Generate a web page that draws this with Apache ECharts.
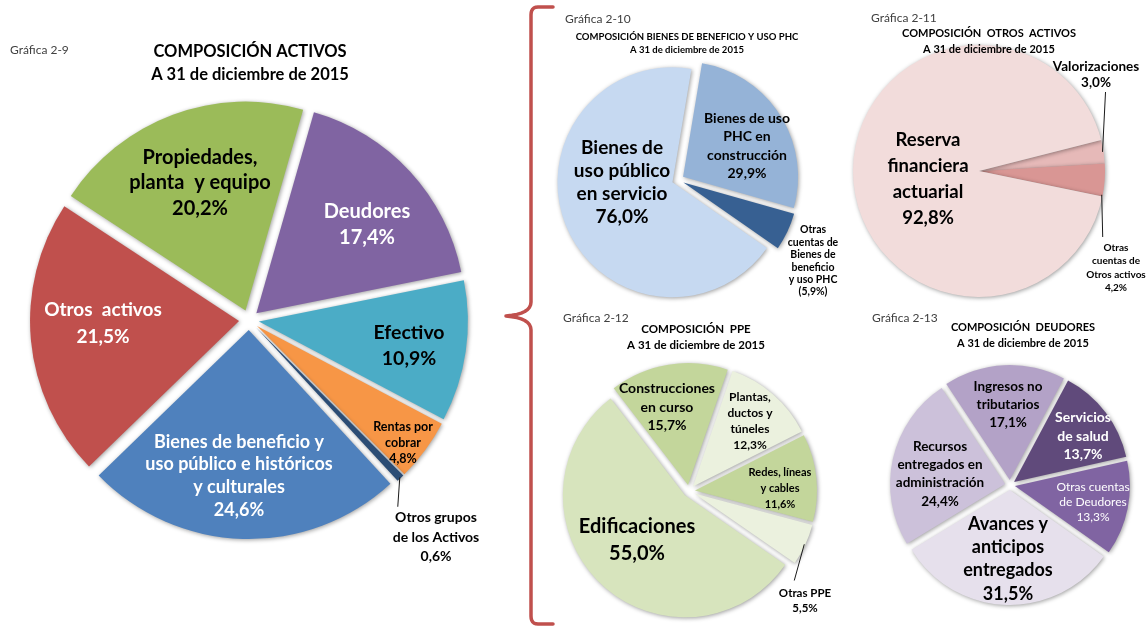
<!DOCTYPE html>
<html>
<head>
<meta charset="utf-8">
<script src="https://cdn.jsdelivr.net/npm/echarts@6/dist/echarts.min.js"></script>
<style>
  html, body { margin: 0; padding: 0; background: #ffffff; }
  #chart { width: 1148px; height: 629px; }
</style>
</head>
<body>
<div id="chart"></div>
<script>
// ---------------- DATA ----------------
// Gráfica 2-9  (clockwise order as drawn)
const activosNames  = ['Deudores', 'Efectivo', 'Rentas por cobrar', 'Otros grupos de los Activos',
                       'Bienes de beneficio y uso público e históricos y culturales', 'Otros activos',
                       'Propiedades, planta y equipo'];
const activosValues = [17.4, 10.9, 4.8, 0.6, 24.6, 21.5, 20.2];
const activosText   = ['Deudores', 'Efectivo', 'Rentas por\ncobrar', 'Otros grupos\nde los Activos',
                       'Bienes de beneficio y\nuso público e históricos\ny culturales', 'Otros  activos',
                       'Propiedades,\nplanta  y equipo'];

// Gráfica 2-10
const phcNames  = ['Bienes de uso PHC en construcción', 'Otras cuentas de Bienes de beneficio y uso PHC',
                   'Bienes de uso público en servicio'];
const phcValues = [29.9, 5.9, 76.0];
const phcText   = ['Bienes de uso\nPHC en\nconstrucción', 'Otras\ncuentas de\nBienes de\nbeneficio\ny uso PHC',
                   'Bienes de\nuso público\nen servicio'];

// Gráfica 2-11
const otrosNames  = ['Valorizaciones', 'Otras cuentas de Otros activos', 'Reserva financiera actuarial'];
const otrosValues = [3.0, 4.2, 92.8];
const otrosText   = ['Valorizaciones', 'Otras\ncuentas de\nOtros activos', 'Reserva\nfinanciera\nactuarial'];

// Gráfica 2-12
const ppeNames  = ['Construcciones en curso', 'Plantas, ductos y túneles', 'Redes, líneas y cables',
                   'Otras PPE', 'Edificaciones'];
const ppeValues = [15.7, 12.3, 11.6, 5.5, 55.0];
const ppeText   = ['Construcciones\nen curso', 'Plantas,\nductos y\ntúneles', 'Redes, líneas\ny cables',
                   'Otras PPE', 'Edificaciones'];

// Gráfica 2-13
const deudNames  = ['Ingresos no tributarios', 'Servicios de salud', 'Otras cuentas de Deudores',
                    'Avances y anticipos entregados', 'Recursos entregados en administración'];
const deudValues = [17.1, 13.7, 13.3, 31.5, 24.4];
const deudText   = ['Ingresos no\ntributarios', 'Servicios\nde salud', 'Otras cuentas\nde Deudores',
                    'Avances y\nanticipos\nentregados', 'Recursos\nentregados en\nadministración'];

// ---------------- STYLE / LAYOUT ----------------
const FONT = 'Lato, "Open Sans", sans-serif';
function pct(v) { return v.toFixed(1).replace('.', ',') + '%'; }

// per-slice label style: dx, dy (label centre relative to pie centre), size, lineHeight, color, weight,
// lead: leader line {to: 'top'|'bottom', ex: x shift of end, gap, at: fraction along the slice arc}
const pies = [
  { names: activosNames, values: activosValues, text: activosText,
    center: [249, 320], radius: 209, startAngle: 74, explode: 10,
    colors: ['#8064A2', '#4BACC6', '#F79646', '#2C4D75', '#4F81BD', '#C0504D', '#9BBB59'],
    labels: [
      { dx: 118, dy: -95, size: 20, lh: 26, color: '#ffffff' },
      { dx: 160, dy: 26, size: 19.5, lh: 26, color: '#000000' },
      { dx: 154, dy: 123, size: 12.5, lh: 16, color: '#000000' },
      { dx: 187, dy: 217, size: 14, lh: 19.5, color: '#000000', lead: { to: 'top', ex: -2, gap: 1, at: 0.5 } },
      { dx: -10, dy: 156, size: 18, lh: 22.7, color: '#ffffff' },
      { dx: -146, dy: 3, size: 19, lh: 27, color: '#ffffff' },
      { dx: -49, dy: -137, size: 20, lh: 25.5, color: '#000000' }
    ] },
  { names: phcNames, values: phcValues, text: phcText, paren: [false, true, false],
    center: [678, 180], radius: 115, startAngle: 80.5, explode: 6,
    colors: ['#95B3D7', '#376092', '#C6D9F1'],
    labels: [
      { dx: 69, dy: -34, size: 14, lh: 18.5, color: '#000000' },
      { dx: 135, dy: 81, size: 10.5, lh: 12.4, color: '#000000' },
      { dx: -56, dy: 2, size: 19, lh: 23, color: '#000000' }
    ] },
  { names: otrosNames, values: otrosValues, text: otrosText,
    center: [979, 171], radius: 126, startAngle: 14.2, explode: 0,
    colors: ['#E6B9B8', '#D99694', '#F2DCDB'],
    labels: [
      { dx: 117, dy: -96, size: 13.5, lh: 16, color: '#000000', lead: { to: 'bottom', ex: 3, gap: 1, at: 0.5 } },
      { dx: 137, dy: 97, size: 10, lh: 13.5, color: '#000000', lead: { to: 'top', ex: 1, gap: 4, at: 0.95 } },
      { dx: -51, dy: 8, size: 18.5, lh: 26, color: '#000000' }
    ] },
  { names: ppeNames, values: ppeValues, text: ppeText,
    center: [689, 491], radius: 122, startAngle: 127.5, explode: 6,
    colors: ['#C3D69B', '#EBF1DE', '#C3D69B', '#EBF1DE', '#D7E4BD'],
    labels: [
      { dx: -22, dy: -84, size: 14, lh: 18.5, color: '#000000' },
      { dx: 61, dy: -69.5, size: 12, lh: 16, color: '#000000' },
      { dx: 91, dy: -3, size: 11, lh: 16, color: '#000000' },
      { dx: 116, dy: 109.5, size: 11.5, lh: 15, color: '#000000', lead: { to: 'top', ex: -10, gap: 5, at: 0.5 } },
      { dx: -52, dy: 49, size: 20, lh: 26.5, color: '#000000' }
    ] },
  { names: deudNames, values: deudValues, text: deudText,
    center: [1010, 485], radius: 115, startAngle: 123.5, explode: 5,
    colors: ['#B3A2C7', '#604A7B', '#8064A2', '#E6E0EC', '#CCC1DA'],
    labels: [
      { dx: -2, dy: -80, size: 13.5, lh: 18, color: '#000000' },
      { dx: 73, dy: -49, size: 14, lh: 18.5, color: '#ffffff' },
      { dx: 83, dy: 17, size: 12, lh: 15, color: '#ffffff', weight: 'normal' },
      { dx: -2, dy: 74, size: 18, lh: 23.3, color: '#000000' },
      { dx: -70, dy: -11, size: 13.5, lh: 18.2, color: '#000000' }
    ] }
];

const titles = [
  { text: 'COMPOSICIÓN ACTIVOS\nA 31 de diciembre de 2015', x: 250, y: 52, size: 16.5, lh: 23 },
  { text: 'COMPOSICIÓN BIENES DE BENEFICIO Y USO PHC\nA 31 de diciembre de 2015', x: 687, y: 37, size: 9.5, lh: 13 },
  { text: 'COMPOSICIÓN  OTROS  ACTIVOS\nA 31 de diciembre de 2015', x: 989, y: 33, size: 11, lh: 16 },
  { text: 'COMPOSICIÓN  PPE\nA 31 de diciembre de 2015', x: 696, y: 329, size: 11.5, lh: 16 },
  { text: 'COMPOSICIÓN  DEUDORES\nA 31 de diciembre de 2015', x: 1023, y: 327, size: 11, lh: 16 }
];
const captions = [
  { text: 'Gráfica 2-9', x: 10, y: 50 },
  { text: 'Gráfica 2-10', x: 565, y: 19 },
  { text: 'Gráfica 2-11', x: 871, y: 18 },
  { text: 'Gráfica 2-12', x: 563, y: 318 },
  { text: 'Gráfica 2-13', x: 872, y: 318 }
];

// ---------------- BUILD ----------------
const labelGraphics = [];
const leaderLines = [];

function buildSeries(p) {
  const cx = p.center[0], cy = p.center[1];
  const sum = p.values.reduce((a, b) => a + b, 0);
  let cum = 0;
  const data = p.values.map((v, i) => {
    const s = p.labels[i];
    const a0 = (90 - p.startAngle) + cum / sum * 360;   // degrees clockwise from 12 o'clock
    const span = v / sum * 360;
    cum += v;
    const phi = a0 + span / 2;
    const ux = Math.sin(phi * Math.PI / 180), uy = -Math.cos(phi * Math.PI / 180);
    const tx = cx + s.dx, ty = cy + s.dy;
    const text = p.text[i] + '\n' + ((p.paren && p.paren[i]) ? '(' + pct(v) + ')' : pct(v));
    labelGraphics.push({
      type: 'text', silent: true, z: 20, x: tx, y: ty,
      style: {
        text: text, fill: s.color, align: 'center', verticalAlign: 'middle',
        fontFamily: FONT, fontSize: s.size, fontWeight: s.weight || 'bold', lineHeight: s.lh
      }
    });
    if (s.lead) {
      const nLines = text.split('\n').length;
      const half = nLines * s.lh / 2;
      const ang = (a0 + span * s.lead.at) * Math.PI / 180;
      const ro = p.radius - 1;
      const ax = cx + ux * p.explode + Math.sin(ang) * ro;
      const ay = cy + uy * p.explode - Math.cos(ang) * ro;
      const ey = s.lead.to === 'top' ? ty - half - s.lead.gap : ty + half + s.lead.gap;
      leaderLines.push([[ax, ay], [ax + s.lead.ex, ey]]);
    }
    return {
      name: p.names[i],
      value: v,
      selected: p.explode > 0,
      itemStyle: { color: p.colors[i] }
    };
  });
  return {
    type: 'pie',
    center: p.center,
    radius: p.radius,
    startAngle: p.startAngle,
    clockwise: true,
    animation: false,
    avoidLabelOverlap: false,
    selectedMode: p.explode > 0 ? 'multiple' : false,
    selectedOffset: p.explode,
    label: { show: false },
    labelLine: { show: false },
    itemStyle: {
      shadowBlur: 4, shadowColor: 'rgba(0,0,0,0.38)', shadowOffsetX: 1, shadowOffsetY: 1
    },
    emphasis: { disabled: true },
    data: data
  };
}

const seriesList = pies.map(buildSeries);

// bracket "{" path as sampled quadratic curves
function quad(p0, p1, p2, n) {
  const pts = [];
  for (let i = 0; i <= n; i++) {
    const t = i / n, a = (1 - t) * (1 - t), b = 2 * (1 - t) * t, c = t * t;
    pts.push([a * p0[0] + b * p1[0] + c * p2[0], a * p0[1] + b * p1[1] + c * p2[1]]);
  }
  return pts;
}
const bx = 531, btop = 7, bmid = 316, bbot = 624, btip = 506, bend = 553;
let bracketPts = [[bend, btop]];
bracketPts = bracketPts.concat(quad([538, btop], [bx, btop], [bx, btop + 8], 6));
bracketPts = bracketPts.concat(quad([bx, bmid - 14], [bx, bmid - 2], [btip, bmid], 8));
bracketPts = bracketPts.concat(quad([btip, bmid], [bx, bmid + 2], [bx, bmid + 14], 8));
bracketPts = bracketPts.concat(quad([bx, bbot - 8], [bx, bbot], [538, bbot], 6));
bracketPts.push([bend, bbot]);

const graphics = [{
  type: 'polyline', silent: true, z: 10,
  shape: { points: bracketPts },
  style: { stroke: '#C0504D', lineWidth: 3.5, fill: null, lineJoin: 'round', lineCap: 'round' }
}].concat(leaderLines.map(pts => ({
  type: 'polyline', silent: true, z: 10,
  shape: { points: pts },
  style: { stroke: '#1a1a1a', lineWidth: 1, fill: null }
}))).concat(labelGraphics);

const option = {
  backgroundColor: '#ffffff',
  textStyle: { fontFamily: FONT },
  title: titles.map(t => ({
    text: t.text, left: t.x, top: t.y - t.lh / 2, textAlign: 'center', padding: 0,
    textStyle: { fontFamily: FONT, fontSize: t.size, lineHeight: t.lh, fontWeight: 'bold', color: '#000000' }
  })).concat(captions.map(c => ({
    text: c.text, left: c.x, top: c.y - 7, padding: 0,
    textStyle: { fontFamily: FONT, fontSize: 12, lineHeight: 14, fontWeight: 'normal', color: '#404040' }
  }))),
  graphic: graphics,
  series: seriesList
};

const chart = echarts.init(document.getElementById('chart'), null, { renderer: 'canvas', width: 1148, height: 629 });
chart.setOption(option);
</script>
</body>
</html>
